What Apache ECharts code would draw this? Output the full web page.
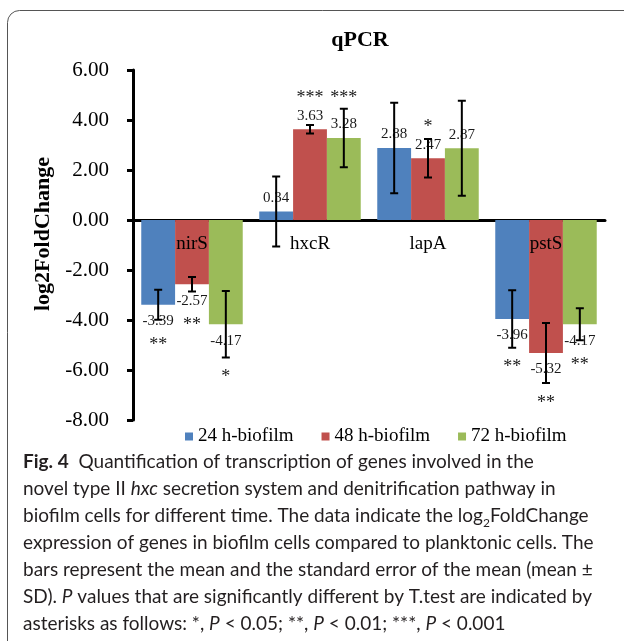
<!DOCTYPE html>
<html>
<head>
<meta charset="utf-8">
<script src="https://cdn.jsdelivr.net/npm/echarts@6/dist/echarts.min.js"></script>
<style>
  html, body { margin: 0; padding: 0; background: #fff; }
  #chart { width: 624px; height: 641px; }
</style>
</head>
<body>
<div id="chart"></div>
<script>
const genes = ["nirS", "hxcR", "lapA", "pstS"];
const seriesNames = ["24 h-biofilm", "48 h-biofilm", "72 h-biofilm"];
const mean24 = [-3.39, 0.34, 2.88, -3.96];
const mean48 = [-2.57, 3.63, 2.47, -5.32];
const mean72 = [-4.17, 3.28, 2.87, -4.17];
const sd24 = [0.60, 1.40, 1.81, 1.15];
const sd48 = [0.29, 0.17, 0.77, 1.20];
const sd72 = [1.33, 1.17, 1.90, 0.64];
const sig24 = ["**", "", "", "**"];
const sig48 = ["**", "***", "*", "**"];
const sig72 = ["*", "***", "", "**"];
const yMin = -8, yMax = 6, yStep = 2;

const means = [mean24, mean48, mean72];
const sds = [sd24, sd48, sd72];
const sigs = [sig24, sig48, sig72];
const colors = ["#4F81BD", "#C0504D", "#9BBB59"];
const serif = "'Liberation Serif', 'Times New Roman', serif";
const sans = "Lato, 'Open Sans', sans-serif";
const GAP = 0.14;

const errData = [];
means.forEach((m, s) => m.forEach((v, i) => errData.push([i, s, v, sds[s][i]])));

const caption =
  "{b|Fig. 4}  Quantification of transcription of genes involved in the\n" +
  "novel type II {i|hxc} secretion system and denitrification pathway in\n" +
  "biofilm cells for different time. The data indicate the log{sub|2}FoldChange\n" +
  "expression of genes in biofilm cells compared to planktonic cells. The\n" +
  "bars represent the mean and the standard error of the mean (mean ±\n" +
  "SD). {i|P} values that are significantly different by T.test are indicated by\n" +
  "asterisks as follows: *, {i|P} < 0.05; **, {i|P} < 0.01; ***, {i|P} < 0.001";

const chart = echarts.init(document.getElementById("chart"));

const option = {
  animation: false,
  color: colors,
  title: {
    text: "qPCR",
    left: 355,
    textAlign: "center",
    top: 24,
    textStyle: { fontFamily: serif, fontSize: 22, fontWeight: "bold", color: "#000" }
  },
  legend: {
    data: seriesNames,
    left: 185,
    top: 427,
    padding: 0,
    icon: "rect",
    itemWidth: 8,
    itemHeight: 8,
    itemGap: 28,
    textStyle: { fontFamily: serif, fontSize: 19, color: "#000" }
  },
  grid: { left: 133, right: 19, top: 70, bottom: 221 },
  xAxis: {
    type: "category",
    data: genes,
    axisLine: { onZero: true, lineStyle: { color: "#000", width: 3 } },
    axisTick: { show: false },
    axisLabel: { show: false },
    splitLine: { show: false }
  },
  yAxis: {
    type: "value",
    min: yMin,
    max: yMax,
    interval: yStep,
    name: "log2FoldChange",
    nameLocation: "middle",
    nameGap: 78,
    nameTextStyle: { fontFamily: serif, fontSize: 22, fontWeight: "bold", color: "#000", padding: [0, 0, 0, 22] },
    axisLine: { show: true, lineStyle: { color: "#000", width: 3 } },
    axisTick: { show: true, length: 6, lineStyle: { color: "#000", width: 3 } },
    axisLabel: { margin: 24, fontFamily: serif, fontSize: 21, color: "#000", formatter: v => v.toFixed(2) },
    splitLine: { show: false }
  },
  series: [
    ...means.map((m, s) => ({
      type: "bar",
      name: seriesNames[s],
      barGap: "0%",
      barCategoryGap: (GAP * 100) + "%",
      z: 2,
      data: m.map(v => ({
        value: v,
        label: { position: v >= 0 ? "top" : "bottom", distance: v >= 0 ? 6 : 9 }
      })),
      label: {
        show: true,
        fontFamily: serif,
        fontSize: 15,
        color: "#1a1a1a",
        formatter: p => p.value.toFixed(2)
      }
    })),
    {
      // gene names sitting just under the zero line
      type: "custom",
      z: 4,
      clip: false,
      silent: true,
      data: genes.map((g, i) => [i, 0]),
      renderItem: (params, api) => {
        const p = api.coord([api.value(0), 0]);
        return {
          type: "text",
          x: p[0],
          y: p[1] + 24,
          style: {
            text: genes[params.dataIndex],
            font: "19px " + serif,
            fill: "#000",
            align: "center",
            verticalAlign: "middle"
          }
        };
      }
    },
    {
      // error bars and significance stars
      type: "custom",
      z: 5,
      clip: false,
      silent: true,
      data: errData,
      renderItem: (params, api) => {
        const i = api.value(0), s = api.value(1), v = api.value(2), sd = api.value(3);
        const band = api.size([1, 0])[0];
        const bw = band * (1 - GAP) / 3;
        const base = api.coord([i, 0]);
        const x = base[0] + (s - 1) * bw;
        const end = api.coord([i, v])[1];
        const hi = api.coord([i, v + sd])[1];
        const lo = api.coord([i, v - sd])[1];
        const unit = Math.abs(api.coord([i, 1])[1] - base[1]);
        const stroke = { stroke: "#000", lineWidth: 2 };
        const children = [
          { type: "line", shape: { x1: x, y1: hi, x2: x, y2: lo }, style: stroke },
          { type: "line", shape: { x1: x - 4, y1: hi, x2: x + 4, y2: hi }, style: stroke },
          { type: "line", shape: { x1: x - 4, y1: lo, x2: x + 4, y2: lo }, style: stroke }
        ];
        const star = sigs[s][i];
        if (star) {
          const dir = v >= 0 ? -1 : 1;
          const d = Math.max(36, sd * unit + 15);
          children.push({
            type: "text",
            x: x,
            y: end + dir * d + 5,
            style: {
              text: star,
              font: "18px " + serif,
              fill: "#1a1a1a",
              align: "center",
              verticalAlign: "middle"
            }
          });
        }
        return { type: "group", children };
      }
    }
  ],
  graphic: [
    {
      type: "rect",
      silent: true,
      shape: { x: 7.5, y: 10.5, width: 640, height: 660, r: 12 },
      style: { fill: "none", stroke: "#555", lineWidth: 1 }
    },
    {
      type: "text",
      left: 23,
      top: 448,
      silent: true,
      style: {
        text: caption,
        fontFamily: sans,
        fontSize: 19,
        lineHeight: 27,
        fill: "#231f20",
        rich: {
          b: { fontFamily: sans, fontSize: 19, fontWeight: "bold", lineHeight: 27, fill: "#231f20" },
          i: { fontFamily: sans, fontSize: 19, fontStyle: "italic", lineHeight: 27, fill: "#231f20" },
          sub: { fontFamily: sans, fontSize: 12, lineHeight: 12, verticalAlign: "bottom", fill: "#231f20" }
        }
      }
    }
  ]
};

chart.setOption(option);
window.addEventListener("resize", () => chart.resize());
</script>
</body>
</html>
